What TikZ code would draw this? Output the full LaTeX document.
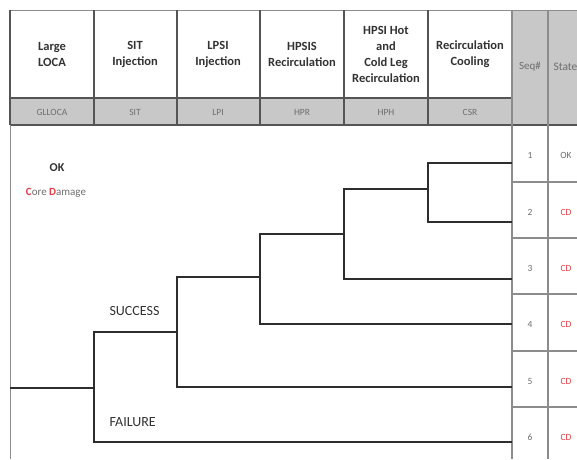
\documentclass[tikz,border=0pt]{standalone}
\usepackage{fontspec}
\setmainfont{Carlito}
\usepackage{tikz}
\usetikzlibrary{positioning}

\definecolor{hdrfill}{RGB}{200,200,200}
\definecolor{hdrline}{RGB}{85,85,85}
\definecolor{rowline}{RGB}{140,140,140}
\definecolor{treeline}{RGB}{45,45,45}
\definecolor{txtdark}{RGB}{50,50,50}
\definecolor{txtgray}{RGB}{110,110,110}
\definecolor{cdred}{RGB}{225,60,70}

\begin{document}
\begin{tikzpicture}[x=1pt,y=-1pt,
		title/.style={align=center,text=txtdark,font=\fontsize{12.5}{16}\selectfont\bfseries},
		code/.style={text=txtgray,font=\fontsize{9.5}{11}\selectfont},
		cell/.style={text=txtgray,font=\fontsize{9.5}{11}\selectfont},
		branch/.style={draw=treeline,line width=1.6pt},
		outcome/.style={anchor=west,text=txtdark,font=\fontsize{14}{16}\selectfont}]
		\useasboundingbox (0,0) rectangle (577,459);

		% header block
		\fill[hdrfill] (10,98) rectangle (512,125);
		\fill[hdrfill] (512,10) rectangle (577,125);
		\draw[rowline,line width=0.8pt] (10,10) -- (577,10);
		\draw[hdrline,line width=1.4pt] (10,98) -- (512,98);
		\draw[hdrline,line width=1.6pt] (10,125) -- (577,125);
		\foreach \x in {10,94,177,260,344,428}
			\draw[hdrline,line width=1.2pt] (\x,10) -- (\x,125);
		\draw[rowline,line width=0.6pt] (10,125) -- (10,459);
		\foreach \x in {512,548}
			\draw[rowline,line width=1.4pt] (\x,10) -- (\x,459);
		\foreach \y in {182,238,294,351,407}
			\draw[rowline,line width=1.4pt] (512,\y) -- (577,\y);

		\node[title] (tLLOCA) at (52,54)  {Large\\LOCA};
		\node[title] (tSIT)   at (135,54) {SIT\\Injection};
		\node[title] (tLPI)   at (218,54) {LPSI\\Injection};
		\node[title] (tHPR)   at (302,54) {HPSIS\\Recirculation};
		\node[title] (tHPH)   at (386,54) {HPSI Hot\\and\\Cold Leg\\Recirculation};
		\node[title] (tCSR)   at (470,54) {Recirculation\\Cooling};
		\node[cell,font=\fontsize{11}{13}\selectfont] (tSeq) at (530,67) {Seq\#};
		\node[cell,anchor=west,font=\fontsize{11.5}{13}\selectfont] (tState) at (550,67) {State};

		\node[code] (cGLLOCA) at (52,112)  {GLLOCA};
		\node[code] (cSIT)    at (135,112) {SIT};
		\node[code] (cLPI)    at (218,112) {LPI};
		\node[code] (cHPR)    at (302,112) {HPR};
		\node[code] (cHPH)    at (386,112) {HPH};
		\node[code] (cCSR)    at (470,112) {CSR};

		% legend
		\node[text=txtdark,font=\fontsize{12}{14}\selectfont\bfseries] (lgOK) at (57,168) {OK};
		\node[text=txtgray,font=\fontsize{11}{13}\selectfont] (lgCD) at (56,193)
			{\textcolor{cdred}{\textbf{C}}ore \textcolor{cdred}{\textbf{D}}amage};

		% event tree
		\coordinate (init) at (10,388);
		\coordinate (sit)  at (94,388);
		\coordinate (lpi)  at (177,332);
		\coordinate (hpr)  at (260,277);
		\coordinate (hph)  at (344,234);
		\coordinate (csr)  at (428,189);
		\foreach \i/\y in {1/163,2/222,3/279,4/324,5/387,6/442}
			\coordinate (end\i) at (512,\y);

		\draw[branch] (init) -- (sit);
		\draw[branch] (sit) |- (lpi);
		\draw[branch] (sit) |- (end6);
		\draw[branch] (lpi) |- (hpr);
		\draw[branch] (lpi) |- (end5);
		\draw[branch] (hpr) |- (hph);
		\draw[branch] (hpr) |- (end4);
		\draw[branch] (hph) |- (csr);
		\draw[branch] (hph) |- (end3);
		\draw[branch] (csr) |- (end1);
		\draw[branch] (csr) |- (end2);

		\node[outcome] (succ) at (106,311) {SUCCESS};
		\node[outcome] (fail) at (106,422) {FAILURE};

		% sequence and state columns
		\foreach \i/\y/\s/\c in {1/155/OK/txtgray,2/212/CD/cdred,3/268/CD/cdred,
				4/324/CD/cdred,5/381/CD/cdred,6/437/CD/cdred}{
			\node[cell] (seq\i) at (530,\y) {\i};
			\node[cell,text=\c] (st\i) at (566,\y) {\s};
		}
	\end{tikzpicture}
\end{document}
